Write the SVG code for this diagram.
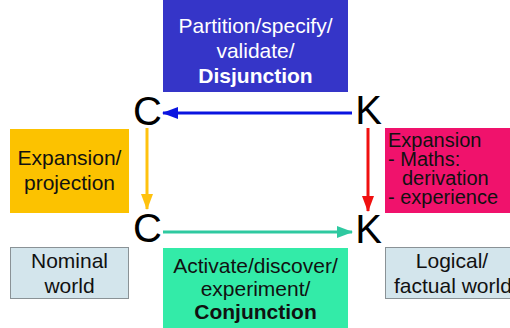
<svg xmlns="http://www.w3.org/2000/svg" width="510" height="328" viewBox="0 0 510 328">
<style>
text{font-family:"Liberation Sans",Arial,sans-serif;font-size:21px;fill:#111}
.c{text-anchor:middle}
.w{fill:#fff}
.b{font-weight:bold}
.p{font-size:20px}
.big{font-size:40px;fill:#000;text-anchor:middle}
.world{fill:#d3e5ec;stroke:#8a9296;stroke-width:1}
.ln{stroke-width:3;fill:none}
</style>
<defs>
<marker id="hb" markerWidth="16" markerHeight="12" refX="15" refY="6" orient="auto" markerUnits="userSpaceOnUse"><path d="M0,0L16,6L0,12z" fill="#0a14e0"/></marker>
<marker id="hy" markerWidth="16" markerHeight="12" refX="15" refY="6" orient="auto" markerUnits="userSpaceOnUse"><path d="M0,0L16,6L0,12z" fill="#ffc20e"/></marker>
<marker id="hr" markerWidth="16" markerHeight="12" refX="15" refY="6" orient="auto" markerUnits="userSpaceOnUse"><path d="M0,0L16,6L0,12z" fill="#f01010"/></marker>
<marker id="hg" markerWidth="16" markerHeight="12" refX="15" refY="6" orient="auto" markerUnits="userSpaceOnUse"><path d="M0,0L16,6L0,12z" fill="#2ec9a0"/></marker>
</defs>
<rect width="510" height="328" fill="#fff"/>
<g id="disjunction">
<rect x="163" y="0" width="185" height="92" fill="#3535c8"/>
<text class="c w" x="255.5" y="33">Partition/specify/</text>
<text class="c w" x="255.5" y="58">validate/</text>
<text class="c w b" x="255.5" y="83">Disjunction</text>
</g>
<g id="expansion-projection">
<rect x="10" y="129" width="119" height="84" fill="#fcc200"/>
<text class="c" x="69.5" y="165">Expansion/</text>
<text class="c" x="69.5" y="190">projection</text>
</g>
<g id="expansion-maths">
<rect x="385" y="128" width="125" height="85" fill="#f0126c"/>
<text class="p" x="388" y="147">Expansion</text>
<text class="p" x="388" y="166">- Maths:</text>
<text class="p" x="402" y="185">derivation</text>
<text class="p" x="388" y="204">- experience</text>
</g>
<g id="conjunction">
<rect x="163" y="248" width="185" height="80" fill="#33eba8"/>
<text class="c" x="255.5" y="273">Activate/discover/</text>
<text class="c" x="255.5" y="296">experiment/</text>
<text class="c b" x="255.5" y="319">Conjunction</text>
</g>
<g id="nominal-world">
<rect class="world" x="10.5" y="247.5" width="118" height="51"/>
<text class="c" x="69.5" y="268">Nominal</text>
<text class="c" x="69.5" y="293">world</text>
</g>
<g id="logical-world">
<rect class="world" x="385.5" y="247.5" width="130" height="51"/>
<text class="c" x="452" y="268">Logical/</text>
<text x="394" y="293">factual world</text>
</g>
<g id="C-top"><text class="big" x="147.5" y="125">C</text></g>
<g id="K-top"><text class="big" x="368.5" y="124">K</text></g>
<g id="C-bottom"><text class="big" x="147.5" y="242">C</text></g>
<g id="K-bottom"><text class="big" x="368.5" y="243">K</text></g>
<g id="connectors">
<line class="ln" x1="352" y1="113" x2="163" y2="113" stroke="#0a14e0" marker-end="url(#hb)"/>
<line class="ln" x1="147" y1="128" x2="147" y2="209" stroke="#ffc20e" marker-end="url(#hy)"/>
<line class="ln" x1="368" y1="128" x2="368" y2="211" stroke="#f01010" marker-end="url(#hr)"/>
<line class="ln" x1="163" y1="232" x2="352" y2="232" stroke="#2ec9a0" marker-end="url(#hg)"/>
</g>
</svg>
